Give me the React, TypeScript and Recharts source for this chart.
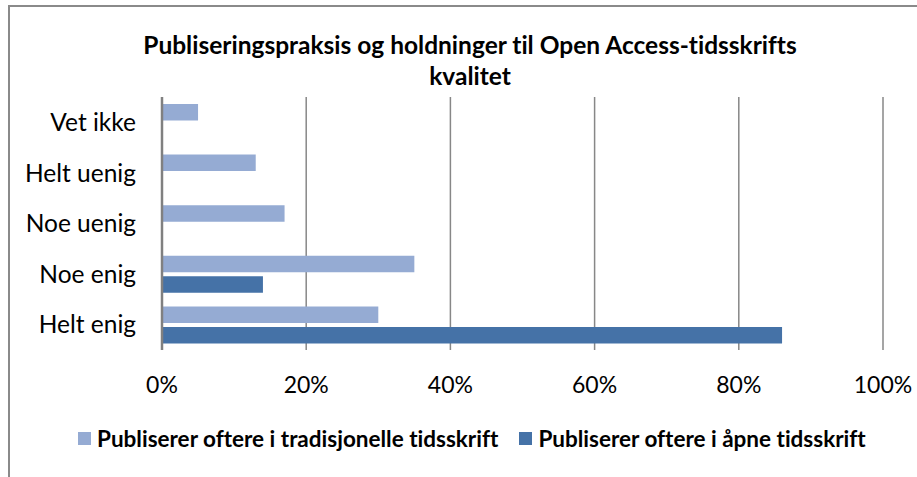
import { BarChart, Bar, XAxis, YAxis, CartesianGrid } from 'recharts';

const categories = ['Vet ikke', 'Helt uenig', 'Noe uenig', 'Noe enig', 'Helt enig'];
const traditional = [5, 13, 17, 35, 30];
const open = [0, 0, 0, 14, 86];
const xTicks = [0, 20, 40, 60, 80, 100];

const seriesNames = {
  traditional: 'Publiserer oftere i tradisjonelle tidsskrift',
  open: 'Publiserer oftere i åpne tidsskrift',
};

const colors = {
  traditional: '#95abd3',
  open: '#4572a7',
};

const data = categories.map((name, i) => ({
  name,
  traditional: traditional[i],
  open: open[i],
}));

const font = 'Lato, Calibri, sans-serif';

export default function App() {
  return (
    <div
      style={{
        position: 'absolute',
        left: 8,
        top: 5,
        width: 909,
        height: 472,
        overflow: 'hidden',
        borderLeft: '2px solid #8a8a8a',
        borderTop: '2px solid #8a8a8a',
        boxSizing: 'border-box',
        background: '#fff',
        fontFamily: font,
        fontVariantLigatures: 'none',
      }}
    >
      <div
        style={{
          position: 'absolute',
          left: 0,
          top: 22,
          width: 920,
          textAlign: 'center',
          fontWeight: 'bold',
          fontSize: 24.5,
          lineHeight: '31px',
          color: '#000',
        }}
      >
        Publiseringspraksis og holdninger til Open Access-tidsskrifts
        <br />
        kvalitet
      </div>
      <div style={{ position: 'absolute', left: 0, top: 0 }}>
        <BarChart
          width={907}
          height={470}
          data={data}
          layout="vertical"
          margin={{ top: 90, right: 34, bottom: 87, left: 0 }}
          barSize={16.5}
          barGap={4}
        >
          <CartesianGrid horizontal={false} stroke="#878787" strokeWidth={1.5} />
          <XAxis
            type="number"
            domain={[0, 100]}
            ticks={xTicks}
            tickFormatter={(v) => `${v}%`}
            axisLine={false}
            tickLine={false}
            tickSize={0}
            tickMargin={27}
            height={40}
            interval={0}
            tick={{ fill: '#000', fontSize: 23, fontFamily: font }}
          />
          <YAxis
            type="category"
            dataKey="name"
            width={152}
            axisLine={{ stroke: '#808080', strokeWidth: 2.5 }}
            tickLine={false}
            tickSize={0}
            tickMargin={26}
            tick={{ fill: '#000', fontSize: 24.5, fontFamily: font }}
          />
          <Bar dataKey="traditional" name={seriesNames.traditional} fill={colors.traditional} isAnimationActive={false} />
          <Bar dataKey="open" name={seriesNames.open} fill={colors.open} isAnimationActive={false} />
        </BarChart>
      </div>
      <div
        style={{
          position: 'absolute',
          top: 418,
          left: 68,
          display: 'flex',
          alignItems: 'center',
          fontWeight: 'bold',
          fontSize: 22.5,
          whiteSpace: 'nowrap',
          color: '#000',
        }}
      >
        {(['traditional', 'open'] as const).map((k) => (
          <span key={k} style={{ display: 'flex', alignItems: 'center', marginRight: 21 }}>
            <span style={{ width: 13, height: 13, background: colors[k], marginRight: 6, display: 'inline-block' }} />
            {seriesNames[k]}
          </span>
        ))}
      </div>
    </div>
  );
}
